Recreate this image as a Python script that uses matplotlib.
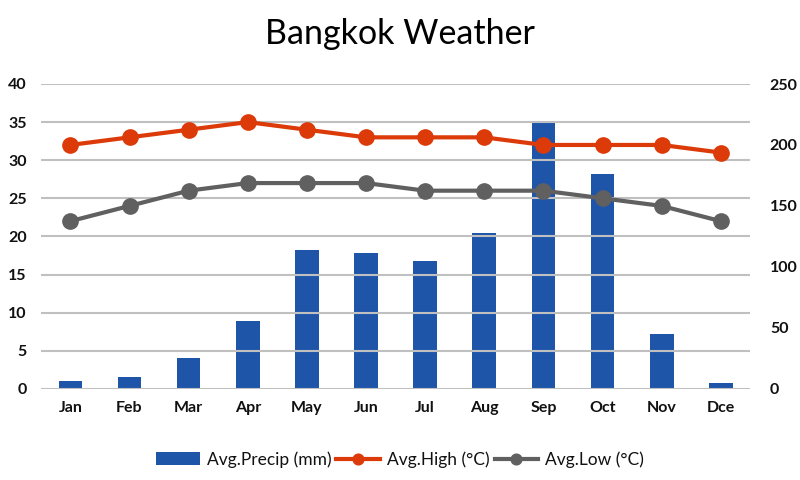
import matplotlib
matplotlib.use("Agg")
import matplotlib.pyplot as plt
import numpy as np

months = ["Jan", "Feb", "Mar", "Apr", "May", "Jun", "Jul", "Aug", "Sep", "Oct", "Nov", "Dce"]
precip = [6, 10, 25, 56, 114, 111, 105, 128, 218, 176, 45, 5]
high = [32, 33, 34, 35, 34, 33, 33, 33, 32, 32, 32, 31]
low = [22, 24, 26, 27, 27, 27, 26, 26, 26, 25, 24, 22]

plt.rcParams['font.family'] = ['Lato', 'DejaVu Sans']

fig = plt.figure(figsize=(8, 4.8), dpi=100)
ax = fig.add_axes([0.051, 0.19, 0.887, 0.635])
ax2 = ax.twinx()
ax.set_zorder(ax2.get_zorder() + 1)
ax.patch.set_visible(False)

x = np.arange(len(months))
bars = ax2.bar(x, precip, width=0.4, color="#1f55a8", label="Avg.Precip (mm)", zorder=2)
l1, = ax.plot(x, high, color="#dc3a08", lw=3, marker="o", ms=11, label="Avg.High (°C)")
l2, = ax.plot(x, low, color="#606060", lw=3, marker="o", ms=11, label="Avg.Low (°C)")

ax.set_xlim(-0.5, 11.5)
ax.set_ylim(0, 40)
ax.set_yticks(range(0, 41, 5))
ax2.set_ylim(0, 250)
ax2.set_yticks(range(0, 251, 50))
ax.grid(axis="y", color="#c0c0c0", lw=1.5)
ax.set_axisbelow(True)
ax2.grid(False)

ax.set_xticks(x)
ax.set_xticklabels(months)
for a in (ax, ax2):
    for s in a.spines.values():
        s.set_visible(False)
    a.tick_params(length=0, labelsize=11.5, labelcolor="#111111")
ax.tick_params(axis="y", pad=10)
ax.tick_params(axis="x", pad=9)
ax2.tick_params(axis="y", pad=14)
for lab in ax.get_xticklabels() + ax.get_yticklabels() + ax2.get_yticklabels():
    lab.set_fontweight("bold")

fig.text(0.5, 0.93, "Bangkok Weather", ha="center", va="center", fontsize=24.5)

leg = fig.legend(handles=[bars, l1, l2], loc="center", bbox_to_anchor=(0.5, 0.043), ncol=3,
                 frameon=False, fontsize=12.5, handlelength=2.5, handletextpad=0.4,
                 columnspacing=0.3, markerscale=0.7)
for t in leg.get_texts():
    t.set_color("#111111")

fig.savefig("out.png", dpi=100)
